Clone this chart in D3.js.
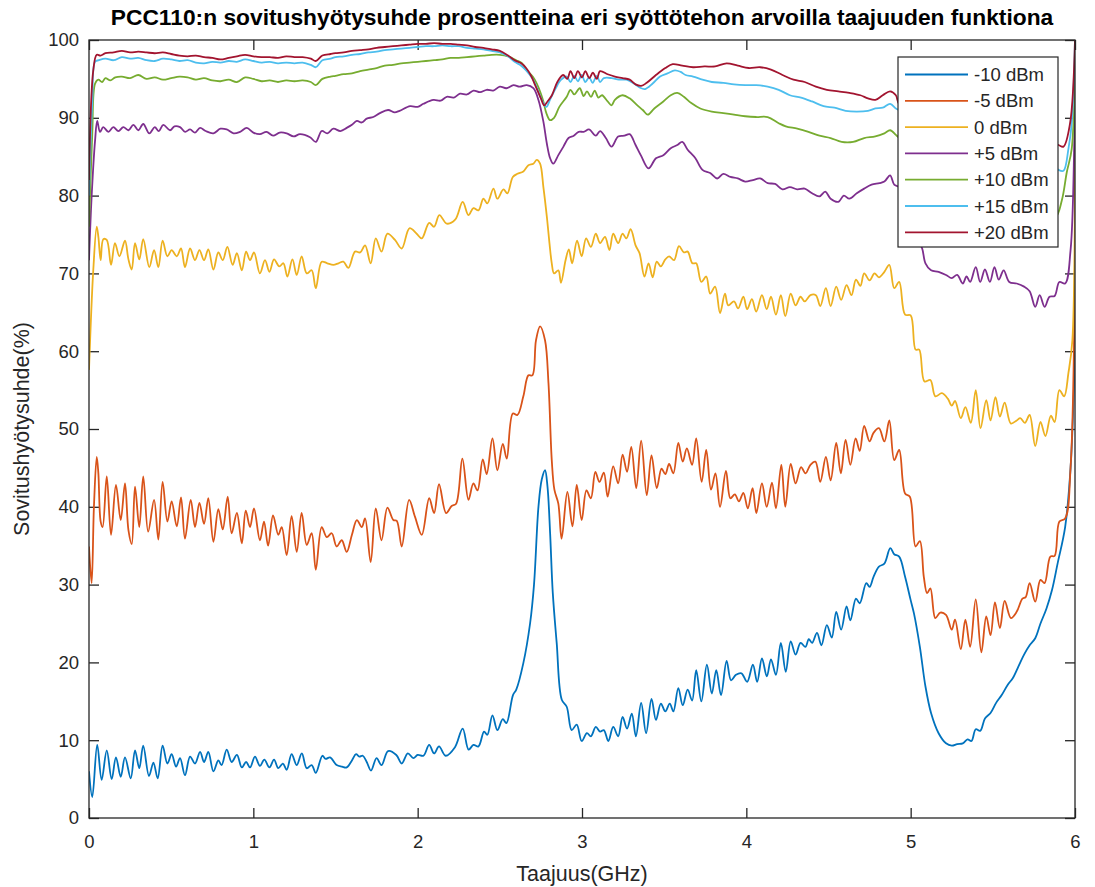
<!DOCTYPE html>
<meta charset="utf-8">
<style>
body { margin: 0; background: #fff; }
svg text { font-family: "Liberation Sans", Arial, Helvetica, sans-serif; fill: #262626; }
.line { fill: none; stroke-width: 1.8px; stroke-linejoin: round; }
.axis path { display: none; }
.axis line { stroke: #262626; stroke-width: 1.3px; }
.axis text { font-size: 18.5px; }
</style>
<body>
<script src="https://d3js.org/d3.v7.min.js"></script>
<script>
// series values: [frequency GHz, matching efficiency %]
var effM10 = [[0,6.0],[0.02,2.7],[0.05,9.4],[0.077,4.9],[0.108,8.7],[0.138,5.0],[0.164,7.8],[0.193,5.3],[0.219,7.8],[0.254,5.1],
  [0.28,8.7],[0.306,6.4],[0.33,9.3],[0.365,5.4],[0.392,7.1],[0.418,5.1],[0.448,9.3],[0.477,7.0],[0.503,8.2],[0.53,6.6],
  [0.554,7.7],[0.584,5.5],[0.615,7.9],[0.645,7.0],[0.676,8.5],[0.70,7.2],[0.726,8.5],[0.757,6.0],[0.787,7.4],[0.807,6.8],
  [0.838,8.8],[0.868,7.2],[0.90,8.1],[0.93,6.5],[0.956,7.2],[0.98,6.5],[1.01,7.9],[1.04,6.7],[1.067,7.5],[1.098,6.5],
  [1.126,7.5],[1.152,6.4],[1.18,7.0],[1.203,6.2],[1.233,8.2],[1.264,6.8],[1.295,8.3],[1.325,6.4],[1.355,6.8],[1.38,5.8],
  [1.42,8.0],[1.44,7.6],[1.467,7.8],[1.507,6.8],[1.54,6.6],[1.568,6.5],[1.60,7.4],[1.625,8.2],[1.645,7.9],[1.666,8.0],
  [1.69,7.2],[1.716,6.1],[1.75,7.7],[1.78,6.8],[1.82,8.6],[1.87,8.1],[1.903,7.0],[1.94,8.3],[1.974,7.7],[2.0,8.1],
  [2.035,8.0],[2.07,9.4],[2.10,8.3],[2.13,9.2],[2.17,8.0],[2.227,9.1],[2.274,11.5],[2.31,8.8],[2.34,9.4],[2.37,9.2],
  [2.404,11.1],[2.424,10.7],[2.455,13.2],[2.485,11.3],[2.518,12.7],[2.54,12.2],[2.58,15.8],[2.60,16.5],[2.643,19.9],[2.684,25.0],
  [2.708,30.0],[2.735,40.0],[2.755,43.5],[2.775,44.7],[2.79,42.6],[2.806,36.6],[2.822,29.0],[2.846,22.5],[2.877,15.2],[2.907,14.3],
  [2.937,11.3],[2.968,12.0],[2.998,9.9],[3.03,10.9],[3.054,10.5],[3.084,11.7],[3.11,11.1],[3.133,11.3],[3.16,9.9],[3.19,11.7],
  [3.22,10.5],[3.247,13.0],[3.274,11.5],[3.303,13.4],[3.328,10.5],[3.36,14.8],[3.39,10.9],[3.423,15.3],[3.45,12.6],[3.48,14.7],
  [3.507,13.7],[3.534,14.7],[3.556,13.7],[3.586,16.7],[3.613,14.5],[3.643,16.5],[3.67,15.1],[3.695,19.0],[3.726,15.0],[3.76,19.7],
  [3.79,16.0],[3.817,19.0],[3.846,15.8],[3.88,20.2],[3.907,17.7],[3.937,18.4],[3.97,18.6],[4.005,17.5],[4.04,19.7],[4.066,17.5],
  [4.095,20.5],[4.125,18.2],[4.15,20.4],[4.18,18.4],[4.21,22.5],[4.24,18.8],[4.27,22.7],[4.30,21.0],[4.33,22.5],[4.36,22.0],
  [4.38,23.0],[4.40,22.5],[4.43,23.8],[4.457,22.2],[4.49,24.8],[4.52,23.2],[4.547,26.5],[4.577,24.2],[4.61,27.2],[4.633,25.4],
  [4.667,28.2],[4.69,27.6],[4.73,30.2],[4.75,29.7],[4.774,31.0],[4.807,32.3],[4.84,32.7],[4.876,34.7],[4.90,33.9],[4.93,33.6],
  [4.966,31.0],[5.0,28.0],[5.02,26.3],[5.056,22.0],[5.09,16.9],[5.124,13.5],[5.17,10.9],[5.215,9.6],[5.25,9.3],[5.283,9.5],
  [5.317,9.6],[5.346,10.1],[5.37,9.9],[5.396,11.4],[5.423,11.2],[5.452,12.8],[5.486,13.5],[5.52,14.8],[5.554,15.8],[5.59,17.1],
  [5.622,18.0],[5.656,19.5],[5.69,21.0],[5.724,22.2],[5.758,23.1],[5.79,25.0],[5.826,26.9],[5.86,29.3],[5.894,32.7],[5.94,37.4],
  [5.973,45.0],[6.0,60.0]];

var effM5 = [[0,34.9],[0.016,30.2],[0.03,40.0],[0.047,46.4],[0.057,44.3],[0.071,38.1],[0.083,37.4],[0.108,43.9],[0.134,36.4],[0.164,42.8],
  [0.193,38.3],[0.219,43.0],[0.24,37.0],[0.26,35.2],[0.28,42.6],[0.306,37.4],[0.33,43.9],[0.36,36.8],[0.396,40.9],[0.422,35.8],
  [0.448,43.2],[0.477,38.1],[0.503,40.7],[0.534,37.5],[0.56,41.2],[0.584,35.9],[0.619,40.9],[0.645,37.4],[0.672,40.5],[0.70,37.8],
  [0.726,41.1],[0.757,35.5],[0.787,39.7],[0.814,37.1],[0.844,41.3],[0.868,36.6],[0.90,39.2],[0.93,35.3],[0.954,39.5],[0.98,37.4],
  [1.004,39.8],[1.04,35.7],[1.065,38.1],[1.09,35.0],[1.12,38.9],[1.152,36.4],[1.173,37.4],[1.203,33.8],[1.233,38.8],[1.264,34.2],
  [1.294,39.2],[1.325,35.1],[1.355,36.6],[1.38,31.9],[1.416,37.4],[1.447,36.1],[1.477,36.6],[1.507,34.9],[1.538,35.7],[1.568,34.2],
  [1.60,36.4],[1.63,38.3],[1.66,37.4],[1.68,38.5],[1.714,32.9],[1.745,39.8],[1.78,35.7],[1.816,39.9],[1.852,38.3],[1.873,38.2],
  [1.903,34.9],[1.948,40.9],[1.984,38.7],[2.025,36.4],[2.07,41.1],[2.10,39.2],[2.13,42.9],[2.173,39.2],[2.207,40.1],[2.234,40.4],
  [2.272,46.2],[2.309,40.9],[2.339,43.0],[2.364,42.1],[2.396,46.1],[2.42,44.2],[2.455,48.8],[2.485,44.7],[2.518,48.1],[2.542,46.2],
  [2.579,52.0],[2.607,51.8],[2.643,54.2],[2.674,56.9],[2.698,56.9],[2.72,61.4],[2.745,63.2],[2.775,61.4],[2.796,55.9],[2.816,46.0],
  [2.832,42.2],[2.856,40.4],[2.876,35.9],[2.911,41.9],[2.942,37.5],[2.968,42.8],[2.998,38.3],[3.027,42.1],[3.054,41.1],[3.081,44.5],
  [3.106,43.2],[3.133,44.4],[3.156,41.3],[3.19,45.2],[3.22,43.0],[3.247,46.7],[3.274,44.5],[3.30,47.7],[3.33,42.4],[3.36,48.5],
  [3.394,41.5],[3.423,46.6],[3.455,42.4],[3.484,44.9],[3.507,44.2],[3.53,45.5],[3.556,44.3],[3.586,48.2],[3.613,45.8],[3.638,47.5],
  [3.67,45.4],[3.695,48.8],[3.728,43.2],[3.756,47.3],[3.785,42.2],[3.812,44.3],[3.84,40.0],[3.876,44.6],[3.903,41.1],[3.93,41.6],
  [3.955,40.7],[3.982,41.8],[4.009,39.8],[4.038,42.4],[4.061,39.2],[4.095,43.0],[4.124,40.0],[4.156,43.1],[4.18,39.8],[4.213,45.4],
  [4.237,40.0],[4.27,45.5],[4.30,43.0],[4.333,45.1],[4.36,44.3],[4.39,45.4],[4.42,45.8],[4.45,43.2],[4.484,46.4],[4.513,43.4],
  [4.547,48.2],[4.575,44.3],[4.604,48.6],[4.633,45.4],[4.665,48.8],[4.69,47.2],[4.717,50.4],[4.75,48.4],[4.774,49.5],[4.807,50.1],
  [4.84,48.4],[4.87,51.1],[4.90,46.0],[4.93,47.3],[4.966,41.7],[4.995,41.3],[5.03,34.9],[5.056,35.6],[5.08,31.0],[5.10,28.9],
  [5.12,29.5],[5.15,25.7],[5.18,26.4],[5.215,26.1],[5.25,24.2],[5.27,25.5],[5.305,21.7],[5.333,25.5],[5.362,22.0],[5.396,28.1],
  [5.43,21.3],[5.46,25.9],[5.486,23.5],[5.513,27.7],[5.543,24.4],[5.572,27.9],[5.61,25.7],[5.645,26.5],[5.68,28.2],[5.70,28.4],
  [5.724,30.2],[5.758,27.8],[5.79,30.6],[5.815,30.2],[5.85,33.6],[5.876,33.7],[5.905,38.1],[5.94,38.5],[5.973,45.0],[6.0,72.0]];

var eff0 = [[0,57.6],[0.026,70.4],[0.047,76.0],[0.057,74.7],[0.071,71.7],[0.087,74.4],[0.108,74.3],[0.134,71.1],[0.158,73.9],[0.185,72.2],
  [0.219,74.2],[0.24,71.8],[0.26,70.5],[0.28,73.9],[0.306,71.8],[0.33,74.4],[0.367,70.8],[0.396,73.0],[0.422,70.8],[0.448,74.2],
  [0.477,72.2],[0.503,73.0],[0.534,72.2],[0.56,73.2],[0.584,70.8],[0.615,73.2],[0.645,71.7],[0.672,73.0],[0.70,71.7],[0.726,73.1],
  [0.757,70.5],[0.787,72.7],[0.814,71.7],[0.842,73.4],[0.874,71.1],[0.90,72.6],[0.93,70.4],[0.956,72.8],[0.98,71.7],[1.004,72.7],
  [1.04,70.0],[1.071,71.7],[1.098,70.2],[1.126,71.8],[1.158,70.9],[1.183,71.3],[1.207,69.6],[1.238,71.8],[1.264,69.8],[1.294,72.2],
  [1.325,70.0],[1.355,70.4],[1.38,68.1],[1.416,71.5],[1.45,71.3],[1.487,71.1],[1.518,71.3],[1.548,71.5],[1.578,70.7],[1.619,72.8],
  [1.65,72.7],[1.68,73.6],[1.714,71.3],[1.745,74.5],[1.78,72.8],[1.816,75.1],[1.862,74.3],[1.903,73.2],[1.95,75.8],[1.994,75.1],
  [2.025,74.5],[2.07,76.5],[2.10,76.0],[2.132,77.5],[2.177,76.4],[2.228,76.9],[2.274,79.2],[2.309,77.5],[2.339,78.4],[2.37,78.1],
  [2.40,79.6],[2.424,79.0],[2.461,80.9],[2.485,79.6],[2.522,80.8],[2.546,80.3],[2.579,82.4],[2.607,82.8],[2.643,83.1],[2.674,83.9],
  [2.704,84.1],[2.725,84.6],[2.745,84.1],[2.765,81.1],[2.786,77.3],[2.802,73.9],[2.816,71.3],[2.83,70.0],[2.856,70.4],[2.872,68.8],
  [2.90,71.7],[2.92,73.1],[2.94,71.3],[2.97,74.2],[2.998,72.2],[3.025,74.5],[3.054,73.4],[3.084,75.1],[3.11,73.9],[3.14,74.7],
  [3.167,73.0],[3.19,75.1],[3.22,73.9],[3.247,75.1],[3.27,74.5],[3.296,75.7],[3.326,73.6],[3.35,72.6],[3.38,69.6],[3.405,71.3],
  [3.43,69.5],[3.455,71.5],[3.48,70.9],[3.507,71.8],[3.53,72.2],[3.56,71.7],[3.59,73.5],[3.62,72.7],[3.643,72.8],[3.672,71.3],
  [3.695,71.3],[3.726,68.9],[3.756,69.6],[3.78,67.4],[3.81,68.3],[3.84,64.9],[3.87,67.4],[3.89,65.9],[3.925,66.4],[3.95,65.5],
  [3.982,67.0],[4.005,65.4],[4.034,66.7],[4.06,65.1],[4.095,67.2],[4.124,65.4],[4.15,67.0],[4.18,64.7],[4.21,67.2],[4.237,64.5],
  [4.27,67.4],[4.30,65.9],[4.33,67.0],[4.355,66.4],[4.39,67.2],[4.423,67.2],[4.45,65.8],[4.484,68.1],[4.513,65.8],[4.547,68.3],
  [4.577,66.6],[4.61,68.5],[4.64,67.2],[4.667,69.2],[4.694,68.4],[4.717,70.0],[4.75,69.1],[4.78,70.0],[4.807,69.5],[4.84,70.2],
  [4.87,71.1],[4.90,68.1],[4.93,68.9],[4.966,64.7],[5.0,64.6],[5.03,60.2],[5.052,60.2],[5.084,56.1],[5.12,56.3],[5.15,54.2],
  [5.19,54.6],[5.226,53.9],[5.25,53.0],[5.27,53.6],[5.305,51.4],[5.333,52.8],[5.366,50.8],[5.396,55.0],[5.425,50.1],[5.46,53.7],
  [5.486,51.1],[5.516,54.1],[5.543,51.6],[5.572,53.4],[5.61,50.7],[5.645,51.1],[5.667,51.4],[5.695,50.8],[5.724,51.8],[5.758,47.8],
  [5.79,50.9],[5.82,49.1],[5.853,51.7],[5.876,50.9],[5.905,55.0],[5.934,54.2],[5.96,57.2],[5.984,61.4],[6.0,88.0]];

var effP5 = [[0,71.7],[0.016,79.9],[0.037,87.1],[0.05,89.6],[0.067,88.2],[0.087,88.8],[0.118,88.2],[0.148,88.8],[0.179,88.3],[0.209,88.8],
  [0.24,88.4],[0.27,89.1],[0.30,88.4],[0.33,89.2],[0.367,88.0],[0.40,88.8],[0.425,88.3],[0.452,89.1],[0.493,88.4],[0.52,88.9],
  [0.554,88.8],[0.585,88.2],[0.615,88.5],[0.645,88.1],[0.676,88.7],[0.71,88.3],[0.757,88.0],[0.80,88.6],[0.838,88.5],[0.88,88.0],
  [0.919,88.2],[0.96,88.7],[1.0,88.1],[1.04,87.9],[1.08,88.2],[1.12,87.7],[1.16,88.1],[1.203,88.0],[1.245,87.6],[1.284,87.9],
  [1.345,87.5],[1.38,86.9],[1.416,88.3],[1.45,88.0],[1.487,88.6],[1.53,88.3],[1.568,88.7],[1.60,89.1],[1.63,89.6],[1.66,89.4],
  [1.69,89.9],[1.73,90.1],[1.77,90.6],[1.82,91.0],[1.86,90.7],[1.89,90.9],[1.954,91.5],[2.0,91.4],[2.035,91.8],[2.096,92.3],
  [2.14,92.2],[2.177,92.7],[2.22,92.6],[2.258,93.1],[2.30,93.0],[2.34,93.5],[2.38,93.3],[2.42,93.6],[2.46,93.5],[2.50,94.0],
  [2.54,93.8],[2.583,94.2],[2.62,94.0],[2.664,94.2],[2.704,93.8],[2.735,92.3],[2.765,89.5],[2.786,86.7],[2.806,84.8],[2.825,84.1],
  [2.856,85.2],[2.887,86.3],[2.918,87.4],[2.95,87.7],[2.98,88.2],[3.01,88.2],[3.043,88.5],[3.084,87.7],[3.11,88.3],[3.145,87.4],
  [3.18,86.3],[3.22,87.6],[3.258,87.7],[3.29,87.9],[3.326,86.5],[3.36,85.1],[3.405,83.5],[3.45,84.8],[3.495,85.2],[3.54,86.1],
  [3.58,86.5],[3.61,86.9],[3.643,85.9],[3.69,84.8],[3.733,83.3],[3.78,82.9],[3.823,82.2],[3.86,82.8],[3.903,82.4],[3.948,82.2],
  [3.993,81.8],[4.04,82.0],[4.084,82.2],[4.13,81.6],[4.175,81.5],[4.22,80.8],[4.265,81.1],[4.31,80.8],[4.355,80.9],[4.40,80.3],
  [4.445,79.9],[4.48,80.5],[4.513,79.6],[4.56,79.2],[4.593,80.0],[4.627,79.6],[4.672,80.3],[4.717,80.9],[4.762,81.4],[4.81,81.6],
  [4.84,81.8],[4.875,82.6],[4.90,81.4],[4.93,81.1],[4.97,79.0],[5.01,76.5],[5.04,74.5],[5.07,73.2],[5.09,71.3],[5.124,70.4],
  [5.17,70.2],[5.215,69.8],[5.25,69.4],[5.283,69.8],[5.317,68.7],[5.34,69.6],[5.362,68.9],[5.396,70.8],[5.423,68.9],[5.452,70.5],
  [5.482,68.9],[5.51,70.8],[5.536,69.2],[5.566,70.4],[5.60,68.9],[5.645,68.7],[5.69,68.3],[5.724,67.7],[5.758,65.7],[5.785,67.2],
  [5.815,65.7],[5.845,67.0],[5.876,67.1],[5.905,68.9],[5.94,68.7],[5.973,73.0],[5.995,86.3],[6.0,100]];

var effP10 = [[0,76.0],[0.02,88.0],[0.037,94.4],[0.057,94.9],[0.08,94.6],[0.10,95.1],[0.13,94.8],[0.16,95.2],[0.2,95.3],[0.25,95.1],
  [0.3,95.5],[0.35,95.0],[0.4,95.2],[0.45,94.9],[0.5,95.1],[0.55,95.3],[0.6,95.2],[0.65,94.9],[0.7,95.1],[0.75,94.8],
  [0.8,94.7],[0.85,94.9],[0.9,94.6],[0.95,95.2],[1.0,95.0],[1.05,94.7],[1.1,94.8],[1.15,94.6],[1.2,94.8],[1.25,94.7],
  [1.3,94.8],[1.35,94.6],[1.38,94.2],[1.42,95.0],[1.47,95.3],[1.5,95.4],[1.55,95.6],[1.6,95.7],[1.65,96.0],[1.7,96.2],
  [1.75,96.4],[1.8,96.7],[1.85,96.8],[1.9,97.0],[1.95,97.1],[2.0,97.2],[2.05,97.3],[2.1,97.4],[2.15,97.5],[2.2,97.7],
  [2.25,97.7],[2.3,97.8],[2.35,97.9],[2.4,98.0],[2.45,98.1],[2.5,98.1],[2.55,97.9],[2.6,97.4],[2.636,97.0],[2.66,96.2],
  [2.7,95.3],[2.725,94.4],[2.75,93.1],[2.765,92.1],[2.783,90.6],[2.805,89.7],[2.83,90.0],[2.862,91.4],[2.907,92.7],[2.93,93.6],
  [2.953,93.0],[2.986,93.8],[3.01,92.8],[3.03,93.4],[3.055,92.7],[3.077,93.5],[3.1,92.6],[3.122,92.9],[3.156,92.1],[3.18,91.6],
  [3.2,92.3],[3.247,92.9],[3.29,92.5],[3.337,91.6],[3.37,91.0],[3.4,90.4],[3.44,91.2],[3.495,92.1],[3.54,92.9],[3.58,93.2],
  [3.62,92.7],[3.665,91.9],[3.72,91.2],[3.79,90.8],[3.86,90.6],[3.925,90.4],[3.993,90.2],[4.06,90.1],[4.13,90.1],[4.197,89.3],
  [4.24,88.9],[4.31,88.6],[4.378,88.2],[4.445,87.7],[4.513,87.4],[4.58,86.9],[4.65,86.9],[4.717,87.4],[4.785,87.6],[4.84,88.0],
  [4.875,88.4],[4.91,87.8],[4.93,87.4],[5.0,85.5],[5.1,83.5],[5.2,82.0],[5.3,81.0],[5.4,80.2],[5.5,79.6],[5.6,79.0],
  [5.7,78.3],[5.8,77.6],[5.88,77.2],[5.92,79.4],[5.95,83.0],[5.98,86.0],[6.0,100]];

var effP15 = [[0,80.0],[0.02,92.0],[0.037,97.2],[0.06,97.4],[0.1,97.6],[0.15,97.4],[0.2,97.8],[0.25,97.6],[0.3,97.7],[0.35,97.4],
  [0.4,97.3],[0.45,97.6],[0.5,97.5],[0.55,97.3],[0.6,97.4],[0.65,97.1],[0.7,97.0],[0.75,97.2],[0.8,97.1],[0.85,97.3],
  [0.9,97.2],[0.95,97.5],[1.0,97.3],[1.05,97.1],[1.1,97.2],[1.15,97.0],[1.2,97.1],[1.25,97.0],[1.3,97.1],[1.35,96.8],
  [1.38,96.5],[1.42,97.4],[1.47,97.6],[1.5,97.8],[1.55,97.9],[1.6,98.1],[1.65,98.2],[1.7,98.4],[1.75,98.5],[1.8,98.7],
  [1.85,98.8],[1.9,98.9],[1.95,99.0],[2.0,99.1],[2.05,99.2],[2.1,99.2],[2.15,99.3],[2.2,99.2],[2.25,99.2],[2.3,99.0],
  [2.35,98.9],[2.4,98.8],[2.45,98.6],[2.5,98.4],[2.55,97.9],[2.59,97.2],[2.63,96.7],[2.66,96.1],[2.7,95.0],[2.726,93.8],
  [2.76,92.1],[2.783,91.4],[2.805,92.3],[2.84,93.8],[2.873,94.9],[2.907,95.3],[2.93,94.6],[2.953,95.4],[2.975,94.7],[2.998,95.5],
  [3.02,94.6],[3.043,95.2],[3.065,94.5],[3.09,95.4],[3.11,94.6],[3.133,95.1],[3.18,95.1],[3.224,94.9],[3.27,94.9],[3.316,94.4],
  [3.35,93.9],[3.384,93.7],[3.43,94.4],[3.475,95.3],[3.52,95.7],[3.565,96.1],[3.6,95.9],[3.63,95.5],[3.676,95.3],[3.733,94.9],
  [3.79,94.6],[3.86,94.5],[3.925,94.3],[3.993,94.2],[4.06,94.2],[4.13,94.0],[4.197,93.6],[4.265,92.9],[4.333,92.6],[4.4,92.1],
  [4.47,91.5],[4.536,91.3],[4.604,90.9],[4.672,90.8],[4.74,90.9],[4.785,91.2],[4.83,91.3],[4.875,91.8],[4.91,91.2],[4.93,91.0],
  [5.0,90.5],[5.2,89.5],[5.4,88.4],[5.6,87.0],[5.8,85.0],[5.9,83.3],[5.93,83.2],[5.96,86.0],[5.98,89.3],[6.0,100]];

var effP20 = [[0,82.0],[0.026,96.1],[0.047,98.1],[0.07,98.0],[0.1,98.3],[0.15,98.4],[0.2,98.6],[0.25,98.4],[0.3,98.5],[0.35,98.4],
  [0.4,98.3],[0.45,98.4],[0.5,98.2],[0.55,98.0],[0.6,97.9],[0.65,98.0],[0.7,97.8],[0.75,97.7],[0.8,97.5],[0.85,97.7],
  [0.9,97.9],[0.95,98.1],[1.0,97.9],[1.05,97.8],[1.1,97.8],[1.15,97.7],[1.2,97.9],[1.25,97.8],[1.3,97.8],[1.35,97.6],
  [1.38,97.3],[1.42,98.0],[1.47,98.2],[1.5,98.3],[1.55,98.4],[1.6,98.6],[1.65,98.7],[1.7,98.8],[1.75,99.0],[1.8,99.1],
  [1.85,99.2],[1.9,99.3],[1.95,99.4],[2.0,99.5],[2.05,99.5],[2.1,99.6],[2.15,99.5],[2.2,99.5],[2.25,99.4],[2.3,99.3],
  [2.35,99.1],[2.4,99.0],[2.45,98.8],[2.5,98.6],[2.55,98.0],[2.59,97.4],[2.63,97.0],[2.66,96.4],[2.69,95.4],[2.715,94.2],
  [2.75,92.5],[2.77,91.6],[2.79,92.1],[2.817,92.9],[2.85,94.6],[2.885,95.5],[2.91,95.0],[2.93,96.0],[2.953,95.1],[2.975,96.0],
  [3.0,95.2],[3.02,96.0],[3.045,95.1],[3.066,95.8],[3.09,95.0],[3.11,96.0],[3.156,95.6],[3.2,95.3],[3.247,95.1],[3.29,94.9],
  [3.326,94.3],[3.36,94.1],[3.394,94.5],[3.45,95.5],[3.507,96.4],[3.552,96.9],[3.61,96.7],[3.676,96.5],[3.745,96.6],[3.81,96.6],
  [3.88,97.0],[3.948,96.7],[4.015,96.4],[4.084,96.5],[4.15,96.2],[4.22,95.5],[4.287,94.9],[4.355,94.6],[4.423,94.0],[4.49,93.6],
  [4.56,93.4],[4.627,93.2],[4.694,92.9],[4.74,92.5],[4.785,92.3],[4.83,92.9],[4.875,93.4],[4.91,92.9],[4.93,91.8],[5.0,91.6],
  [5.2,91.0],[5.4,90.0],[5.6,89.0],[5.8,87.5],[5.9,86.5],[5.93,86.3],[5.97,89.3],[6.0,100]];

var seriesData = [effM10, effM5, eff0, effP5, effP10, effP15, effP20];
var seriesNames = ["-10 dBm", "-5 dBm", "0 dBm", "+5 dBm", "+10 dBm", "+15 dBm", "+20 dBm"];
var seriesColors = ["#0072BD", "#D95319", "#EDB120", "#7E2F8E", "#77AC30", "#4DBEEE", "#A2142F"];
var xTicks = [0, 1, 2, 3, 4, 5, 6];
var yTicks = [0, 10, 20, 30, 40, 50, 60, 70, 80, 90, 100];

var titleText = "PCC110:n sovitushyötysuhde prosentteina eri syöttötehon arvoilla taajuuden funktiona";
var xLabel = "Taajuus(GHz)";
var yLabel = "Sovitushyötysuhde(%)";

// plot box
var margin = {top: 40, right: 20, bottom: 69, left: 89},
    W = 1095, H = 887,
    width = W - margin.left - margin.right,
    height = H - margin.top - margin.bottom;

var x = d3.scaleLinear().domain([0, 6]).range([0, width]);
var y = d3.scaleLinear().domain([0, 100]).range([height, 0]);

var svg = d3.select("body").append("svg")
    .attr("width", W)
    .attr("height", H);

var g = svg.append("g")
    .attr("transform", "translate(" + margin.left + "," + margin.top + ")");

g.append("clipPath").attr("id", "clip")
  .append("rect").attr("width", width).attr("height", height);

// axes, ticks pointing inward
g.append("g").attr("class", "axis")
    .attr("transform", "translate(0," + height + ")")
    .call(d3.axisBottom(x).tickValues(xTicks).tickFormat(d3.format("d"))
      .tickSizeInner(-10).tickSizeOuter(0).tickPadding(17))
    .selectAll("text").attr("dy", "0.71em");
g.append("g").attr("class", "axis")
    .call(d3.axisTop(x).tickValues(xTicks).tickSizeInner(-10).tickSizeOuter(0).tickFormat(""));
g.append("g").attr("class", "axis")
    .call(d3.axisLeft(y).tickValues(yTicks).tickSizeInner(-10).tickSizeOuter(0).tickPadding(10));
g.append("g").attr("class", "axis")
    .attr("transform", "translate(" + width + ",0)")
    .call(d3.axisRight(y).tickValues(yTicks).tickSizeInner(-10).tickSizeOuter(0).tickFormat(""));

// lines
var valueline = d3.line()
    .curve(d3.curveCatmullRom.alpha(0.5))
    .x(function(d) { return x(d[0]); })
    .y(function(d) { return y(d[1]); });

g.append("g").attr("clip-path", "url(#clip)")
  .selectAll("path")
  .data(seriesData)
  .enter().append("path")
    .attr("class", "line")
    .attr("stroke", function(d, i) { return seriesColors[i]; })
    .attr("d", valueline);

// box
g.append("rect")
    .attr("width", width).attr("height", height)
    .attr("fill", "none").attr("stroke", "#262626").attr("stroke-width", 1.3);

// title
var title = svg.append("text")
    .attr("x", margin.left + width / 2)
    .attr("y", 25)
    .attr("text-anchor", "middle")
    .style("font-weight", "bold")
    .style("font-size", "19px")
    .style("fill", "#000")
    .text(titleText);
var tl = title.node().getComputedTextLength();
title.style("font-size", (19 * 943 / tl) + "px");

svg.append("text")
    .attr("x", margin.left + width / 2)
    .attr("y", 881)
    .attr("text-anchor", "middle")
    .style("font-size", "21.5px")
    .text(xLabel);

svg.append("text")
    .attr("transform", "translate(29," + (margin.top + height / 2) + ") rotate(-90)")
    .attr("text-anchor", "middle")
    .style("font-size", "21.5px")
    .text(yLabel);

// legend
var lg = svg.append("g").attr("transform", "translate(898,57)");
lg.append("rect")
    .attr("width", 160).attr("height", 190)
    .attr("fill", "#fff").attr("stroke", "#262626").attr("stroke-width", 1.2);
var item = lg.selectAll("g.item")
    .data(seriesNames)
  .enter().append("g")
    .attr("class", "item")
    .attr("transform", function(d, i) { return "translate(0," + (17.5 + i * 26.3) + ")"; });
item.append("line")
    .attr("x1", 7).attr("x2", 70)
    .attr("stroke", function(d, i) { return seriesColors[i]; })
    .attr("stroke-width", 1.8);
item.append("text")
    .attr("x", 76).attr("dy", "0.36em")
    .style("font-size", "18.5px")
    .text(function(d) { return d; });
</script>
</body>
